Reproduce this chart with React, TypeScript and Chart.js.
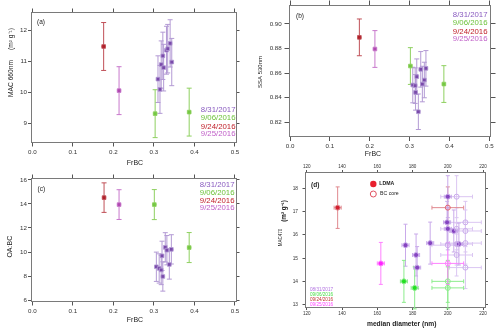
import React, { useEffect, useRef } from 'react';
import { Chart, registerables } from 'chart.js';
Chart.register(...registerables);

const FONT = "'Liberation Sans', Arial, Helvetica, sans-serif";

// ---------- Panel (a): MAC 660nm vs FrBC ----------
const aPurpleX = [0.310, 0.315, 0.318, 0.322, 0.324, 0.331, 0.334, 0.340, 0.344];
const aPurpleY = [10.42, 10.09, 10.89, 11.17, 10.79, 11.35, 11.40, 11.57, 10.97];
const aPurpleErr = [0.75, 0.77, 0.76, 0.76, 0.75, 0.77, 0.78, 0.76, 0.76];
const aGreenX = [0.303, 0.387];
const aGreenY = [9.31, 9.36];
const aGreenErr = [0.77, 0.77];
const aRedX = [0.176];
const aRedY = [11.47];
const aRedErr = [0.77];
const aPinkX = [0.214];
const aPinkY = [10.05];
const aPinkErr = [0.77];

// ---------- Panel (b): SSA 530nm vs FrBC ----------
const bPurpleX = [0.308, 0.314, 0.315, 0.318, 0.322, 0.328, 0.332, 0.337, 0.341];
const bPurpleY = [0.8502, 0.8497, 0.8442, 0.857, 0.8284, 0.863, 0.851, 0.8543, 0.8638];
const bPurpleErr = [0.0145, 0.0145, 0.0145, 0.0145, 0.0145, 0.0145, 0.0145, 0.0145, 0.0145];
const bGreenX = [0.302, 0.386];
const bGreenY = [0.8657, 0.851];
const bGreenErr = [0.015, 0.015];
const bRedX = [0.174];
const bRedY = [0.8891];
const bRedErr = [0.015];
const bPinkX = [0.213];
const bPinkY = [0.8796];
const bPinkErr = [0.015];

// ---------- Panel (c): OA:BC vs FrBC ----------
const cPurpleX = [0.306, 0.313, 0.318, 0.320, 0.322, 0.328, 0.332, 0.338, 0.343];
const cPurpleY = [8.77, 8.63, 8.50, 9.68, 7.96, 10.39, 10.15, 8.96, 10.22];
const cPurpleErr = [1.22, 1.22, 1.22, 1.22, 1.22, 1.22, 1.22, 1.22, 1.22];
const cGreenX = [0.301, 0.387];
const cGreenY = [13.95, 10.37];
const cGreenErr = [1.25, 1.25];
const cRedX = [0.177];
const cRedY = [14.53];
const cRedErr = [1.23];
const cPinkX = [0.214];
const cPinkY = [13.95];
const cPinkErr = [1.24];

// ---------- Panel (d): MAC470 vs median diameter ----------
const dPurpleY = [15.56, 15.14, 14.6, 15.65, 17.64, 16.54, 16.26, 16.17, 15.61];
const dPurpleLdmaX = [176, 182, 182.6, 190, 200, 199.6, 200, 203.4, 206.3];
const dPurpleCoreX = [200, 205, 210, 210, 205, 210, 205, 210, 205];
const dPurpleYErr = [0.9, 0.9, 0.9, 0.9, 0.9, 0.9, 0.9, 0.9, 0.9];
const dPurpleLdmaXErr = [2, 2, 2, 2, 2, 2, 2, 2, 2];
const dPurpleCoreXErr = [9, 9, 9, 9, 9, 9, 9, 9, 9];
const dGreenY = [14.01, 13.73];
const dGreenLdmaX = [175.1, 181.2];
const dGreenCoreX = [200, 200];
const dGreenYErr = [0.9, 0.9];
const dRedY = [17.17];
const dRedLdmaX = [137.5];
const dRedCoreX = [200];
const dRedYErr = [0.89];
const dPinkY = [14.78];
const dPinkLdmaX = [162];
const dPinkCoreX = [200];
const dPinkYErr = [0.9];

const legendDates = ['8/31/2017', '9/06/2016', '9/24/2016', '9/25/2016'];
const legendDatesD = ['08/31/2017', '09/06/2016', '09/24/2016', '09/25/2016'];

const pts = (xs: number[], ys: number[]) => xs.map((x, i) => ({ x, y: ys[i] }));
const fill = (n: number, v: number) => Array.from({ length: n }, () => v);

type Txt = { t: string; x: number; y: number; size: number; color?: string; align?: CanvasTextAlign; rot?: boolean; bold?: boolean };
type Mark = { x: number; y: number; r: number; fill?: string; stroke?: string };

const errorBars = {
  id: 'errorBars',
  beforeDatasetsDraw(chart: any) {
    const ctx = chart.ctx;
    const xs = chart.scales.x;
    const ys = chart.scales.y;
    chart.data.datasets.forEach((ds: any) => {
      ctx.save();
      ctx.strokeStyle = ds.errColor;
      ctx.lineWidth = 1;
      const cap = ds.cap ?? 2.5;
      const capX = ds.capX ?? 2;
      ds.data.forEach((p: any, i: number) => {
        const px = xs.getPixelForValue(p.x);
        const py = ys.getPixelForValue(p.y);
        ctx.beginPath();
        if (ds.yErr) {
          const e = ds.yErr[i];
          const t = ys.getPixelForValue(p.y + e);
          const b = ys.getPixelForValue(p.y - e);
          ctx.moveTo(px, t); ctx.lineTo(px, b);
          ctx.moveTo(px - cap, t); ctx.lineTo(px + cap, t);
          ctx.moveTo(px - cap, b); ctx.lineTo(px + cap, b);
        }
        if (ds.xErr) {
          const e = ds.xErr[i];
          const l = xs.getPixelForValue(p.x - e);
          const r = xs.getPixelForValue(p.x + e);
          ctx.moveTo(l, py); ctx.lineTo(r, py);
          ctx.moveTo(l, py - capX); ctx.lineTo(l, py + capX);
          ctx.moveTo(r, py - capX); ctx.lineTo(r, py + capX);
        }
        ctx.stroke();
      });
      ctx.restore();
    });
  },
};

const makeTextPlugin = (items: Txt[], marks: Mark[]) => ({
  id: 'texts',
  afterDraw(chart: any) {
    const ctx = chart.ctx;
    items.forEach((it) => {
      ctx.save();
      ctx.font = `${it.bold ? 'bold ' : ''}${it.size}px ${FONT}`;
      ctx.fillStyle = it.color || '#222';
      ctx.textAlign = it.align || 'center';
      ctx.textBaseline = 'middle';
      ctx.translate(it.x, it.y);
      if (it.rot) ctx.rotate(-Math.PI / 2);
      ctx.fillText(it.t, 0, 0);
      ctx.restore();
    });
    marks.forEach((m) => {
      ctx.save();
      ctx.beginPath();
      ctx.arc(m.x, m.y, m.r, 0, Math.PI * 2);
      if (m.fill) { ctx.fillStyle = m.fill; ctx.fill(); }
      if (m.stroke) { ctx.strokeStyle = m.stroke; ctx.lineWidth = 1; ctx.stroke(); }
      ctx.restore();
    });
  },
});

const LABEL_H = 16; // height reserved for horizontal axis labels
const LABEL_W = 30; // width reserved for vertical axis labels

const fitTo = (size: number) => (s: any) => {
  if (s.isHorizontal()) s.height = size; else s.width = size;
  s.paddingLeft = 0; s.paddingRight = 0; s.paddingTop = 0; s.paddingBottom = 0;
};

type AxisCfg = { min: number; max: number; step: number; dec: number; font: number; tick: number; pad: number; mirrorLabels?: boolean };

const FRAME = '#7a7a7a';
const TICKC = '#555';

const axis = (id: string, position: string, a: AxisCfg, showLabels: boolean) => {
  const horiz = position === 'top' || position === 'bottom';
  const size = showLabels ? (horiz ? LABEL_H : LABEL_W) : 0;
  return {
    type: 'linear',
    axis: id[0],
    position,
    min: a.min,
    max: a.max,
    afterFit: fitTo(size),
    ticks: {
      display: showLabels,
      stepSize: a.step,
      autoSkip: false,
      maxRotation: 0,
      minRotation: 0,
      includeBounds: false,
      padding: a.pad,
      color: '#333',
      font: { family: FONT, size: a.font },
      callback: (v: any) => Number(v).toFixed(a.dec),
    },
    grid: { drawOnChartArea: false, drawTicks: true, tickLength: a.tick, color: TICKC, lineWidth: 1 },
    border: { display: true, color: FRAME, width: 1 },
  };
};

type Panel = {
  rect: [number, number, number, number];
  x: AxisCfg;
  y: AxisCfg;
  datasets: any[];
  texts: Txt[];
  marks: Mark[];
};

const P = { purple: '#7a4aaa', purpleE: '#b39ad4', green: '#74c843', greenE: '#8fd060', red: '#b0202a', redE: '#c05058', pink: '#b048b0', pinkE: '#c878cc' };
const LEGC = ['#8a5cc0', '#6cc23a', '#c0202a', '#c060c8'];

const sq = (label: string, xs: number[], ys: number[], err: number[], col: string, errCol: string, xErrV: number) => ({
  label,
  data: pts(xs, ys),
  yErr: err,
  xErr: fill(xs.length, xErrV),
  capX: 0,
  errColor: errCol,
  pointStyle: 'rect',
  pointRadius: 2.6,
  backgroundColor: col,
  borderColor: errCol,
  borderWidth: 0.8,
});

const legendTexts = (xr: number, ys: number[]): Txt[] =>
  legendDates.map((t, i) => ({ t, x: xr, y: ys[i], size: 7.8, color: LEGC[i], align: 'right' }));

const panelA: Panel = {
  rect: [31.5, 12.5, 236, 142.5],
  x: { min: -0.002, max: 0.5025, step: 0.1, dec: 1, font: 6.2, tick: 4, pad: 2 },
  y: { min: 8.383, max: 12.563, step: 1, dec: 0, font: 6.2, tick: 3.5, pad: 1 },
  datasets: [
    sq('8/31/2017', aPurpleX, aPurpleY, aPurpleErr, P.purple, P.purpleE, 0.005),
    sq('9/06/2016', aGreenX, aGreenY, aGreenErr, P.green, P.greenE, 0.005),
    sq('9/24/2016', aRedX, aRedY, aRedErr, P.red, P.redE, 0.005),
    sq('9/25/2016', aPinkX, aPinkY, aPinkErr, P.pink, P.pinkE, 0.005),
  ],
  texts: [
    { t: '(a)', x: 37, y: 22.7, size: 6.5, align: 'left' },
    { t: 'FrBC', x: 135, y: 163, size: 7 },
    { t: 'MAC 660nm', x: 11, y: 78.5, size: 6.7, rot: true },
    { t: '(m² g⁻¹)', x: 11, y: 39, size: 6.7, rot: true },
    ...legendTexts(235.5, [110, 118.3, 126.7, 134.3]),
  ],
  marks: [],
};

const panelB: Panel = {
  rect: [289.5, 5, 490.5, 136.5],
  x: { min: -0.0013, max: 0.503, step: 0.1, dec: 1, font: 6.2, tick: 4.5, pad: 1.5 },
  y: { min: 0.8082, max: 0.9155, step: 0.02, dec: 2, font: 6.2, tick: 5, pad: 2.8 },
  datasets: [
    sq('8/31/2017', bPurpleX, bPurpleY, bPurpleErr, P.purple, P.purpleE, 0.005),
    sq('9/06/2016', bGreenX, bGreenY, bGreenErr, P.green, P.greenE, 0.005),
    sq('9/24/2016', bRedX, bRedY, bRedErr, P.red, P.redE, 0.005),
    sq('9/25/2016', bPinkX, bPinkY, bPinkErr, P.pink, P.pinkE, 0.005),
  ],
  texts: [
    { t: '(b)', x: 296, y: 16.7, size: 6.5, align: 'left' },
    { t: 'FrBC', x: 373, y: 154, size: 7 },
    { t: 'SSA 530nm', x: 260, y: 72, size: 6, rot: true },
    ...legendTexts(487.5, [15, 23.3, 31.7, 39.3]),
  ],
  marks: [],
};

const panelC: Panel = {
  rect: [31.5, 178.5, 236, 301.5],
  x: { min: -0.002, max: 0.5025, step: 0.1, dec: 1, font: 6.2, tick: 4, pad: 2.3 },
  y: { min: 5.876, max: 16.124, step: 2, dec: 0, font: 6.2, tick: 3.5, pad: 1 },
  datasets: [
    sq('8/31/2017', cPurpleX, cPurpleY, cPurpleErr, P.purple, P.purpleE, 0.005),
    sq('9/06/2016', cGreenX, cGreenY, cGreenErr, P.green, P.greenE, 0.005),
    sq('9/24/2016', cRedX, cRedY, cRedErr, P.red, P.redE, 0.005),
    sq('9/25/2016', cPinkX, cPinkY, cPinkErr, P.pink, P.pinkE, 0.005),
  ],
  texts: [
    { t: '(c)', x: 37.5, y: 189, size: 6.5, align: 'left' },
    { t: 'FrBC', x: 135, y: 320, size: 7 },
    { t: 'OA:BC', x: 10, y: 246.7, size: 7, rot: true },
    ...legendTexts(234.5, [185, 192.7, 200.7, 208.3]),
  ],
  marks: [],
};

const D = {
  purple: '#8544c0', purpleE: '#c9aaea', purpleC: '#c9aaea', purpleCE: '#dbc6f2',
  green: '#22e022', greenE: '#8cec8c',
  red: '#d42030', redE: '#e08a90', redC: '#e06070',
  pink: '#ff22ff', pinkE: '#ff80ff',
};

const circ = (label: string, xs: number[], ys: number[], yErr: number[], xErr: number[], col: string, border: string, errCol: string, open: boolean) => ({
  label,
  data: pts(xs, ys),
  yErr,
  xErr,
  cap: 2,
  capX: 2,
  errColor: errCol,
  pointStyle: 'circle',
  pointRadius: 2.5,
  backgroundColor: open ? 'rgba(255,255,255,0)' : col,
  borderColor: border,
  borderWidth: 1,
});

const panelD: Panel = {
  rect: [305.5, 172.5, 485, 307.5],
  x: { min: 119.26, max: 221.1, step: 20, dec: 0, font: 4.6, tick: 2.5, pad: 1, mirrorLabels: true },
  y: { min: 12.889, max: 18.677, step: 1, dec: 0, font: 4.8, tick: 3, pad: 4.5 },
  datasets: [
    circ('08/31/2017 core', dPurpleCoreX, dPurpleY, dPurpleYErr, dPurpleCoreXErr, D.purpleC, D.purpleC, D.purpleCE, true),
    circ('09/06/2016 core', dGreenCoreX, dGreenY, dGreenYErr, fill(dGreenY.length, 9), D.greenE, D.greenE, D.greenE, true),
    circ('09/24/2016 core', dRedCoreX, dRedY, dRedYErr, fill(dRedY.length, 9), D.redC, D.redC, D.redE, true),
    circ('09/25/2016 core', dPinkCoreX, dPinkY, dPinkYErr, fill(dPinkY.length, 9), D.pinkE, D.pinkE, D.pinkE, true),
    circ('08/31/2017', dPurpleLdmaX, dPurpleY, dPurpleYErr, dPurpleLdmaXErr, D.purple, D.purpleE, D.purpleE, false),
    circ('09/06/2016', dGreenLdmaX, dGreenY, dGreenYErr, fill(dGreenY.length, 2), D.green, D.greenE, D.greenE, false),
    circ('09/24/2016', dRedLdmaX, dRedY, dRedYErr, fill(dRedY.length, 2), D.red, D.redE, D.redE, false),
    circ('09/25/2016', dPinkLdmaX, dPinkY, dPinkYErr, fill(dPinkY.length, 2), D.pink, D.pinkE, D.pinkE, false),
  ],
  texts: [
    { t: '(d)', x: 311, y: 185, size: 6.5, align: 'left', bold: true },
    { t: 'median diameter (nm)', x: 401.7, y: 324.3, size: 6.7, bold: true },
    { t: '(m² g⁻¹)', x: 284.3, y: 211, size: 6.3, rot: true, bold: true },
    { t: 'MAC470', x: 281, y: 237.5, size: 4.5, rot: true },
    { t: 'LDMA', x: 379.3, y: 184, size: 5.2, align: 'left', bold: true },
    { t: 'BC core', x: 380, y: 194, size: 5.2, align: 'left' },
    ...legendDatesD.map((t, i) => ({ t, x: 310, y: [289.3, 294.6, 300, 305.2][i], size: 4.6, color: ['#b070e0', '#44dd44', '#c03030', '#ff40ff'][i], align: 'left' as CanvasTextAlign })),
  ],
  marks: [
    { x: 373.3, y: 184, r: 3.2, fill: '#e8202e' },
    { x: 373.3, y: 194, r: 3, stroke: '#e05060' },
  ],
};

const W = 500;
const H = 332;

function PanelChart({ panel }: { panel: Panel }) {
  const ref = useRef<HTMLCanvasElement | null>(null);
  useEffect(() => {
    if (!ref.current) return;
    const [l, t, r, b] = panel.rect;
    const topLab = panel.x.mirrorLabels ? LABEL_H : 0;
    const chart = new Chart(ref.current, {
      type: 'scatter',
      data: { datasets: panel.datasets },
      options: {
        responsive: false,
        animation: false,
        events: [],
        layout: { padding: { left: l - LABEL_W, top: t - topLab, right: W - r, bottom: H - b - LABEL_H } },
        plugins: { legend: { display: false }, tooltip: { enabled: false }, title: { display: false } },
        scales: {
          x: axis('x', 'bottom', panel.x, true),
          x2: axis('x2', 'top', panel.x, !!panel.x.mirrorLabels),
          y: axis('y', 'left', panel.y, true),
          y2: axis('y2', 'right', panel.y, false),
        },
      } as any,
      plugins: [errorBars, makeTextPlugin(panel.texts, panel.marks)],
    });
    return () => chart.destroy();
  }, [panel]);
  return (
    <canvas
      ref={ref}
      width={W}
      height={H}
      style={{ position: 'absolute', left: 0, top: 0, width: W, height: H }}
    />
  );
}

export default function App() {
  return (
    <div style={{ position: 'fixed', left: 0, top: 0, width: W, height: H, background: '#fff', overflow: 'hidden' }}>
      <PanelChart panel={panelA} />
      <PanelChart panel={panelB} />
      <PanelChart panel={panelC} />
      <PanelChart panel={panelD} />
    </div>
  );
}
